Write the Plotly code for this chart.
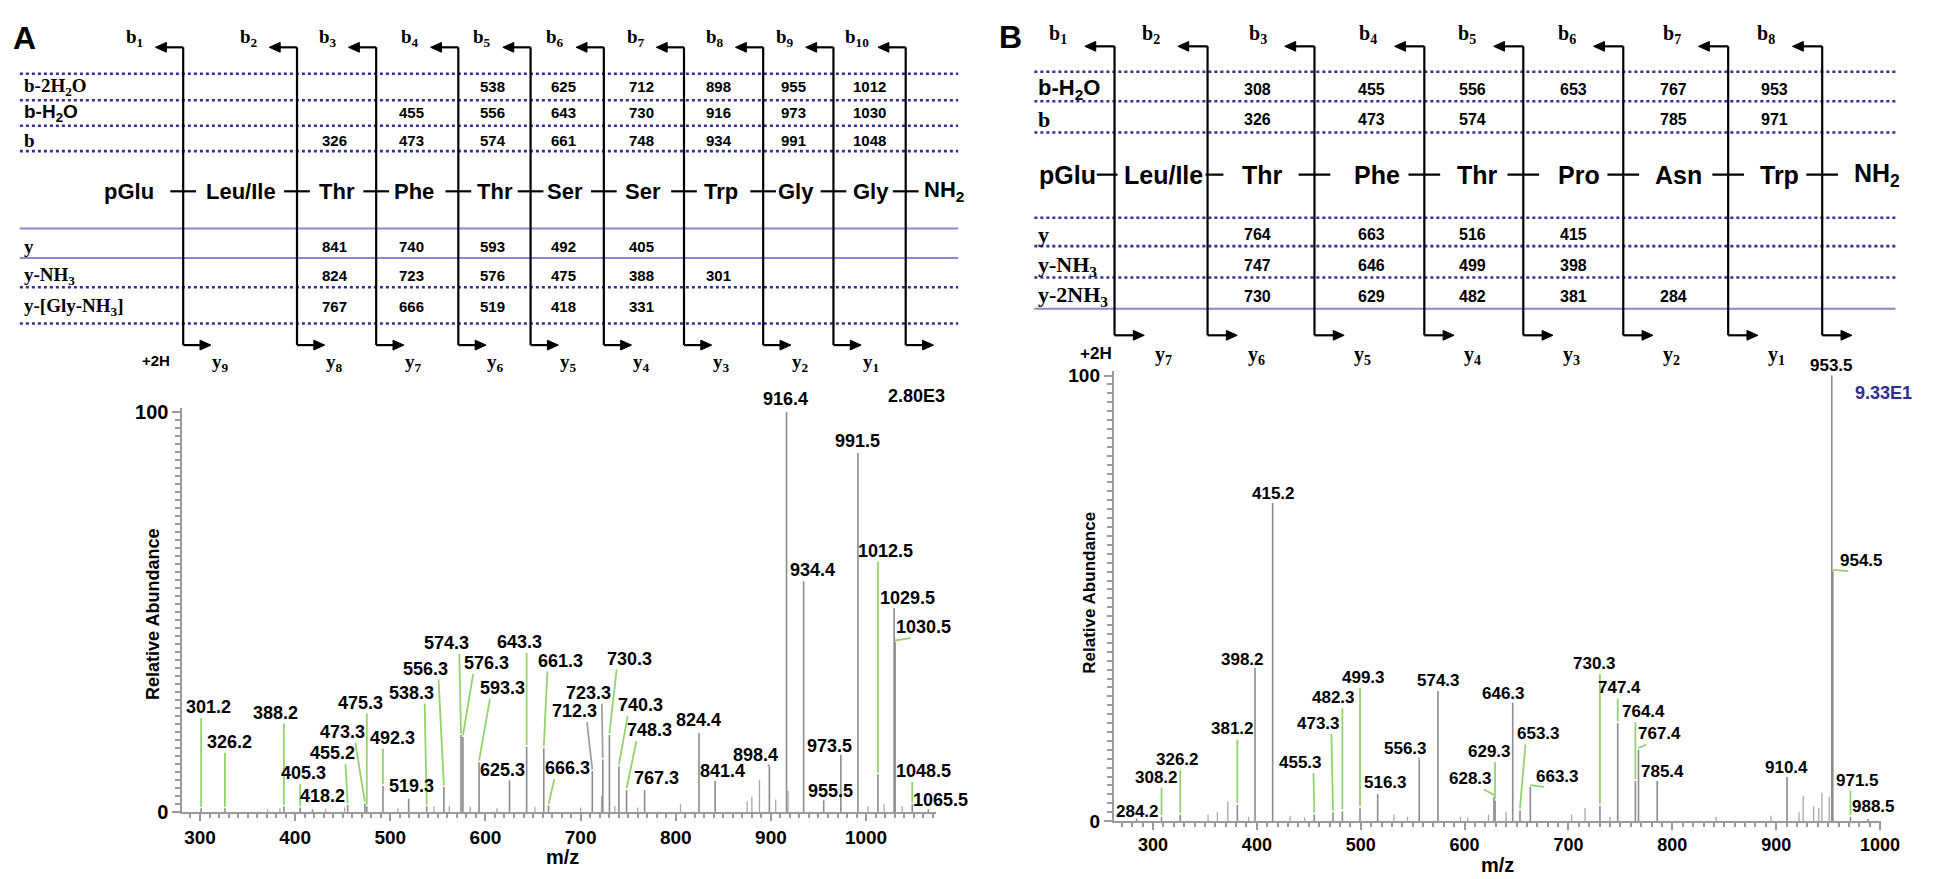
import plotly.graph_objects as go

W, H = 1950, 879
SANS = "Liberation Sans"
SERIF = "Liberation Serif"
AXC = "#9a9a9a"
STEM = "#8c8c8c"
GREEN = "#93d36b"
DOT = "#33308f"
SOLID = "#8c84cf"

# ---------------- spectrum A (m/z, relative abundance %) ----------------
a_mz = [301.2, 326.2, 388.2, 405.3, 418.2, 455.2, 473.3, 475.3, 492.3, 519.3,
        538.3, 556.3, 574.3, 576.3, 593.3, 625.3, 643.3, 661.3, 666.3, 712.3,
        723.3, 730.3, 740.3, 748.3, 767.3, 824.4, 841.4, 898.4, 916.4, 934.4,
        955.5, 973.5, 991.5, 1012.5, 1029.5, 1030.5, 1048.5, 1065.5]
a_int = [1.0, 1.0, 1.5, 1.2, 0.8, 1.8, 2.2, 1.5, 6.6, 3.4,
         1.5, 6.3, 19.3, 18.8, 12.5, 8.0, 16.4, 16.0, 1.7, 10.3,
         13.2, 19.3, 11.5, 5.6, 5.6, 19.8, 7.8, 11.5, 100.0, 57.7,
         3.0, 14.4, 89.7, 9.5, 51.0, 42.5, 2.0, 0.8]
a_minor_mz = [371, 384, 432, 452, 508, 546, 562, 584, 612, 652, 700, 722,
              736, 760, 805, 875, 880, 888, 905, 918, 1002, 1019, 1038]
a_minor_int = [0.8, 1.0, 0.9, 1.2, 1.0, 1.5, 1.6, 1.4, 1.0, 1.4, 1.2, 4.0,
               1.6, 1.2, 2.0, 2.7, 3.9, 8.0, 3.2, 5.4, 1.5, 2.0, 1.5]
a_scale = "2.80E3"

# ---------------- spectrum B ----------------
b_mz = [284.2, 308.2, 326.2, 381.2, 398.2, 415.2, 455.3, 473.3, 482.3, 499.3,
        516.3, 556.3, 574.3, 628.3, 629.3, 646.3, 653.3, 663.3, 730.3, 747.4,
        764.4, 767.4, 785.4, 910.4, 953.5, 954.5, 971.5, 988.5]
b_int = [0.6, 1.0, 1.5, 3.7, 34.0, 71.4, 1.5, 2.0, 2.2, 3.0,
         6.1, 13.8, 29.2, 5.5, 4.6, 26.6, 2.4, 7.7, 3.5, 22.0,
         9.0, 16.0, 9.0, 9.9, 100.0, 56.0, 1.0, 0.5]
b_minor_mz = [353, 362, 372, 392, 432, 446, 532, 545, 596, 603, 623, 640,
              703, 716, 740, 842, 895, 922, 926, 936, 941, 944, 951]
b_minor_int = [1.5, 2.0, 4.4, 1.0, 1.2, 0.8, 1.5, 1.0, 1.0, 0.8, 1.5, 2.0,
               1.5, 2.9, 1.0, 1.0, 1.2, 2.0, 5.7, 3.3, 3.0, 6.4, 5.5]
b_scale = "9.33E1"

# ---------------- fragment ladders ----------------
a_res = ["pGlu", "Leu/Ile", "Thr", "Phe", "Thr", "Ser", "Ser", "Trp", "Gly", "Gly", "NH<sub>2</sub>"]
a_row_names = ["b-2H<sub>2</sub>O", "b-H<sub>2</sub>O", "b", "y", "y-NH<sub>3</sub>", "y-[Gly-NH<sub>3</sub>]"]
a_b_2h2o = [None, None, None, None, 538, 625, 712, 898, 955, 1012, None]
a_b_h2o = [None, None, None, 455, 556, 643, 730, 916, 973, 1030, None]
a_b = [None, None, 326, 473, 574, 661, 748, 934, 991, 1048, None]
a_y = [None, None, 841, 740, 593, 492, 405, None, None, None, None]
a_y_nh3 = [None, None, 824, 723, 576, 475, 388, 301, None, None, None]
a_y_gly = [None, None, 767, 666, 519, 418, 331, None, None, None, None]
a_b_ions = ["1", "2", "3", "4", "5", "6", "7", "8", "9", "10"]
a_y_ions = ["9", "8", "7", "6", "5", "4", "3", "2", "1", ""]

b_res = ["pGlu", "Leu/Ile", "Thr", "Phe", "Thr", "Pro", "Asn", "Trp", "NH<sub>2</sub>"]
b_row_names = ["b-H<sub>2</sub>O", "b", "y", "y-NH<sub>3</sub>", "y-2NH<sub>3</sub>"]
b_b_h2o = [None, None, 308, 455, 556, 653, 767, 953, None]
b_b = [None, None, 326, 473, 574, None, 785, 971, None]
b_y = [None, None, 764, 663, 516, 415, None, None, None]
b_y_nh3 = [None, None, 747, 646, 499, 398, None, None, None]
b_y_2nh3 = [None, None, 730, 629, 482, 381, 284, None, None]
b_b_ions = ["1", "2", "3", "4", "5", "6", "7", "8"]
b_y_ions = ["7", "6", "5", "4", "3", "2", "1", ""]

# ---------------- placement (label centres in axis units, flags for leader lines) ----------------
a_lab_x = [309.4, 331.2, 379.1, 409.2, 429.0, 439.4, 449.8, 468.5, 501.8, 522.6,
           522.6, 537.2, 559.0, 600.6, 618.3, 618.3, 636.0, 678.6, 685.9, 693.2,
           708.8, 751.4, 762.9, 772.2, 779.5, 824.2, 849.2, 883.5, 915.8, 943.9,
           962.6, 961.5, 990.7, 1020.8, 1043.7, 1060.3, 1060.3, 1078.0]
a_lab_y = [26.2, 17.6, 24.9, 9.8, 4.2, 14.7, 20.0, 27.4, 18.6, 6.6,
           29.8, 35.9, 42.3, 37.2, 31.1, 10.5, 42.5, 37.9, 11.0, 25.2,
           29.8, 38.4, 26.7, 20.5, 8.6, 23.0, 10.3, 14.2, 103.2, 60.4,
           5.4, 16.6, 92.7, 65.3, 53.5, 46.2, 10.3, 3.2]
a_link = ["g", "g", "g", "g", "", "g", "g", "g", "g", "",
          "g", "g", "g", "g", "g", "", "g", "g", "g", "k",
          "k", "g", "g", "g", "", "", "", "k", "", "",
          "", "", "", "g", "", "g", "g", ""]

b_lab_x = [284.7, 303.8, 323.8, 376.3, 385.8, 416.3, 442.1, 459.3, 473.6, 502.2,
           524.1, 543.2, 574.7, 606.1, 624.2, 637.6, 671.0, 689.1, 725.3, 749.2,
           772.1, 787.3, 790.2, 910.3, 953.3, 981.9, 978.1, 993.3]
b_lab_y = [2.2, 9.9, 13.8, 20.7, 36.3, 73.6, 13.2, 22.0, 27.7, 32.3,
           8.6, 16.3, 31.6, 9.5, 15.6, 28.6, 19.6, 10.1, 35.4, 29.9,
           24.6, 19.6, 11.2, 12.1, 102.2, 58.5, 9.2, 3.3]
b_link = ["", "g", "g", "g", "k", "", "g", "g", "g", "g",
          "", "k", "", "g", "g", "", "g", "g", "g", "g",
          "g", "g", "", "", "", "g", "g", ""]

# plot areas in page pixels: left, right, bottom (y=0), top (y=ymax)
A_BOX = dict(l=176, r=938, b=814, t=401, xr=[281.3, 1073.9], yr=[0, 101])
B_BOX = dict(l=1117, r=1892, b=823, t=363.5, xr=[262, 1000.5], yr=[0, 101])


def stems(mz, inten):
    xs, ys = [], []
    for m, v in zip(mz, inten):
        xs += [m, m, None]
        ys += [0, v, None]
    return xs, ys


def leaders(mz, inten, lx, ly, flags, kind, cx, dy):
    xs, ys = [], []
    for m, v, x, y, f in zip(mz, inten, lx, ly, flags):
        if f != kind:
            continue
        tx = min(max(m, x - cx), x + cx)
        xs += [tx, m, None]
        ys += [y - dy, v + 0.4, None]
    return xs, ys


def label_axes(box):
    # full-page axes carrying the same data scale, so labels past the frame still show
    kx = (box["r"] - box["l"]) / (box["xr"][1] - box["xr"][0])
    ky = (box["b"] - box["t"]) / (box["yr"][1] - box["yr"][0])
    xr = [box["xr"][0] - box["l"] / kx, box["xr"][0] + (W - box["l"]) / kx]
    yr = [box["yr"][0] - (H - box["b"]) / ky, box["yr"][1] + box["t"] / ky]
    return xr, yr


fig = go.Figure()

panels = [
    ("x", "y", "x4", "y4", a_mz, a_int, a_minor_mz, a_minor_int, a_lab_x, a_lab_y, a_link, 13.5, 2.7, 18),
    ("x2", "y2", "x5", "y5", b_mz, b_int, b_minor_mz, b_minor_int, b_lab_x, b_lab_y, b_link, 12.4, 2.4, 17),
]
for xr, yr, lxr, lyr, mz, inten, mmz, mint, lx, ly, flags, cx, dy, fs in panels:
    sx, sy = stems(mmz, mint)
    fig.add_trace(go.Scatter(x=sx, y=sy, mode="lines", xaxis=xr, yaxis=yr,
                             line=dict(color="#a8a8a8", width=1.3), hoverinfo="skip"))
    sx, sy = stems(mz, inten)
    fig.add_trace(go.Scatter(x=sx, y=sy, mode="lines", xaxis=xr, yaxis=yr,
                             line=dict(color=STEM, width=1.6), hoverinfo="skip"))
    for kind, col in (("g", GREEN), ("k", "#a0a0a0")):
        lxs, lys = leaders(mz, inten, lx, ly, flags, kind, cx, dy)
        fig.add_trace(go.Scatter(x=lxs, y=lys, mode="lines", xaxis=xr, yaxis=yr,
                                 line=dict(color=col, width=1.8), hoverinfo="skip"))
    fig.add_trace(go.Scatter(x=[None], y=[None], xaxis=lxr, yaxis=lyr, hoverinfo="skip"))
    for m, x, y in zip(mz, lx, ly):
        fig.add_annotation(x=x, y=y, xref=lxr, yref=lyr, text="<b>%s</b>" % m,
                           showarrow=False, font=dict(family=SANS, size=fs, color="black"))

# overlay in page pixels for the ladders and free text
fig.add_trace(go.Scatter(x=[None], y=[None], xaxis="x3", yaxis="y3", hoverinfo="skip"))


def txt(x, y, s, size, family=SANS, color="black", anchor="center", angle=0):
    fig.add_annotation(x=x, y=y, xref="x3", yref="y3", text=s, showarrow=False,
                       xanchor=anchor, yanchor="middle", textangle=angle,
                       font=dict(family=family, size=size, color=color))


def seg(x0, y0, x1, y1, color="black", width=2.2, dash="solid"):
    fig.add_shape(type="line", xref="x3", yref="y3", x0=x0, y0=y0, x1=x1, y1=y1,
                  line=dict(color=color, width=width, dash=dash))


def arrow(xtail, xtip, y):
    d = 1 if xtip > xtail else -1
    seg(xtail, y, xtip - d * 6, y)
    fig.add_shape(type="path", xref="x3", yref="y3",
                  path="M %g,%g L %g,%g L %g,%g Z" % (xtip, y, xtip - d * 11, y - 5,
                                                    xtip - d * 11, y + 5),
                  fillcolor="black", line=dict(color="black", width=1))


def ladder(res, row_names, rows, b_ions, y_ions, lay):
    for y, style in lay["lines"]:
        if style == "dot":
            seg(lay["x0"], y, lay["x1"], y, DOT, 2.6, "dot")
        else:
            seg(lay["x0"], y, lay["x1"], y, SOLID, 2.0)
    for name, y, fam in zip(row_names, lay["row_y"], lay["row_font"]):
        txt(lay["x0"] + 2, y, "<b>%s</b>" % name, lay["fs_row"], fam, anchor="left")
    for vals, y in zip(rows, lay["row_y"]):
        for v, x in zip(vals, lay["res_x"]):
            if v is not None:
                txt(x + lay["val_dx"], y, "<b>%d</b>" % v, lay["fs_val"])
    for r, x in zip(res, lay["res_x"]):
        txt(x, lay["res_y"], "<b>%s</b>" % r, lay["fs_res"])
    for i, cx in enumerate(lay["cut_x"]):
        seg(cx, lay["top"], cx, lay["bottom"])
        l, r = lay["dash"][i]
        seg(cx - l, lay["res_y"], cx + r, lay["res_y"])
        arrow(cx, cx - lay["arrow"], lay["top"])
        arrow(cx, cx + lay["arrow"], lay["bottom"])
        txt(cx + lay["blab_dx"], lay["blab_y"], "<b>b<sub>%s</sub></b>" % b_ions[i], lay["fs_ion"], SERIF)
        if y_ions[i]:
            txt(cx + lay["ylab_dx"], lay["ylab_y"], "<b>y<sub>%s</sub></b>" % y_ions[i], lay["fs_ion"], SERIF)
    txt(lay["plus"][0], lay["plus"][1], "<b>+2H</b>", lay["fs_plus"])


A_LAY = dict(res_x=[122, 235, 332, 410, 492, 563, 642, 720, 796, 872, 946],
             cut_x=[177, 292, 372, 455, 528, 602, 683, 763, 834, 907],
             row_y=[73, 100, 128, 236, 266, 298], res_y=180,
             row_font=[SERIF, SANS, SERIF, SERIF, SERIF, SERIF],
             lines=[(60, "dot"), (87, "dot"), (113, "dot"), (139, "dot"),
                    (218, "solid"), (248, "solid"), (278, "dot"), (315, "dot")],
             x0=12, x1=960, top=33, bottom=337, arrow=28,
             blab_dx=-49, blab_y=23, ylab_dx=38, ylab_y=355, plus=(150, 353),
             dash=[(13, 13)] * 10, val_dx=-2,
             fs_val=15, fs_res=22, fs_row=19, fs_ion=19, fs_plus=15)
B_LAY = dict(res_x=[1070, 1167, 1267, 1383, 1485, 1587, 1688, 1790, 1888],
             cut_x=[1118, 1212, 1320, 1431, 1531, 1632, 1738, 1833],
             row_y=[76, 107, 224, 256, 287], res_y=163,
             row_font=[SANS, SERIF, SERIF, SERIF, SERIF],
             lines=[(58, "dot"), (88, "dot"), (120, "dot"), (207, "dot"),
                    (236, "dot"), (268, "dot"), (300, "solid")],
             x0=1037, x1=1907, top=32, bottom=327, arrow=30,
             blab_dx=-57, blab_y=20, ylab_dx=49, ylab_y=348, plus=(1099, 346),
             dash=[(18, 3), (2, 16)] + [(16, 16)] * 6, val_dx=-5,
             fs_val=16, fs_res=25, fs_row=22, fs_ion=20, fs_plus=17)

ladder(a_res, a_row_names, [a_b_2h2o, a_b_h2o, a_b, a_y, a_y_nh3, a_y_gly],
       a_b_ions, a_y_ions, A_LAY)
ladder(b_res, b_row_names, [b_b_h2o, b_b, b_y, b_y_nh3, b_y_2nh3],
       b_b_ions, b_y_ions, B_LAY)

# panel letters, scale factors and axis titles
txt(17, 23, "<b>A</b>", 32)
txt(1013, 22, "<b>B</b>", 32)
txt(918, 389, "<b>%s</b>" % a_scale, 18)
txt(1895, 386, "<b>%s</b>" % b_scale, 18, color="#2e2e8e")
txt(147, 612, "<b>Relative Abundance</b>", 18, angle=-90)
txt(1093, 590, "<b>Relative Abundance</b>", 17, angle=-90)
txt(560, 860, "<b>m/z</b>", 20)
txt(1505, 868, "<b>m/z</b>", 20)


def xax(box, anchor, fs):
    return dict(domain=[box["l"] / W, box["r"] / W], range=box["xr"], anchor=anchor,
                showline=True, linecolor=AXC, linewidth=1.5, ticks="outside", ticklen=7,
                tickwidth=1.5, tickcolor=AXC, tick0=0, dtick=100, showgrid=False, zeroline=False,
                minor=dict(ticks="outside", dtick=10, tick0=0, ticklen=4, tickcolor=AXC),
                tickfont=dict(family=SANS, size=fs, color="black", weight="bold"))


def yax(box, anchor, fs):
    return dict(domain=[1 - box["b"] / H, 1 - box["t"] / H], range=box["yr"], anchor=anchor,
                showline=True, linecolor=AXC, linewidth=1.5,
                ticks="outside", ticklen=8, tickwidth=1.5, tickcolor=AXC,
                tickmode="array", tickvals=[0, 100], ticktext=["0", "100"],
                minor=dict(ticks="outside", tickmode="linear", dtick=2, tick0=0,
                           ticklen=5, tickcolor=AXC),
                showgrid=False, zeroline=False,
                tickfont=dict(family=SANS, size=fs, color="black", weight="bold"))


hidden = dict(domain=[0, 1], visible=False, fixedrange=True)
la_x, la_y = label_axes(A_BOX)
lb_x, lb_y = label_axes(B_BOX)

fig.update_layout(
    width=W, height=H, margin=dict(l=0, r=0, t=0, b=0),
    paper_bgcolor="white", plot_bgcolor="rgba(0,0,0,0)", showlegend=False,
    xaxis=xax(A_BOX, "y", 19), yaxis=yax(A_BOX, "x", 20),
    xaxis2=xax(B_BOX, "y2", 18), yaxis2=yax(B_BOX, "x2", 19),
    xaxis3=dict(hidden, range=[0, W], anchor="y3"),
    yaxis3=dict(hidden, range=[H, 0], anchor="x3"),
    xaxis4=dict(hidden, range=la_x, anchor="y4"),
    yaxis4=dict(hidden, range=la_y, anchor="x4"),
    xaxis5=dict(hidden, range=lb_x, anchor="y5"),
    yaxis5=dict(hidden, range=lb_y, anchor="x5"),
)

fig.write_html("out.html")
